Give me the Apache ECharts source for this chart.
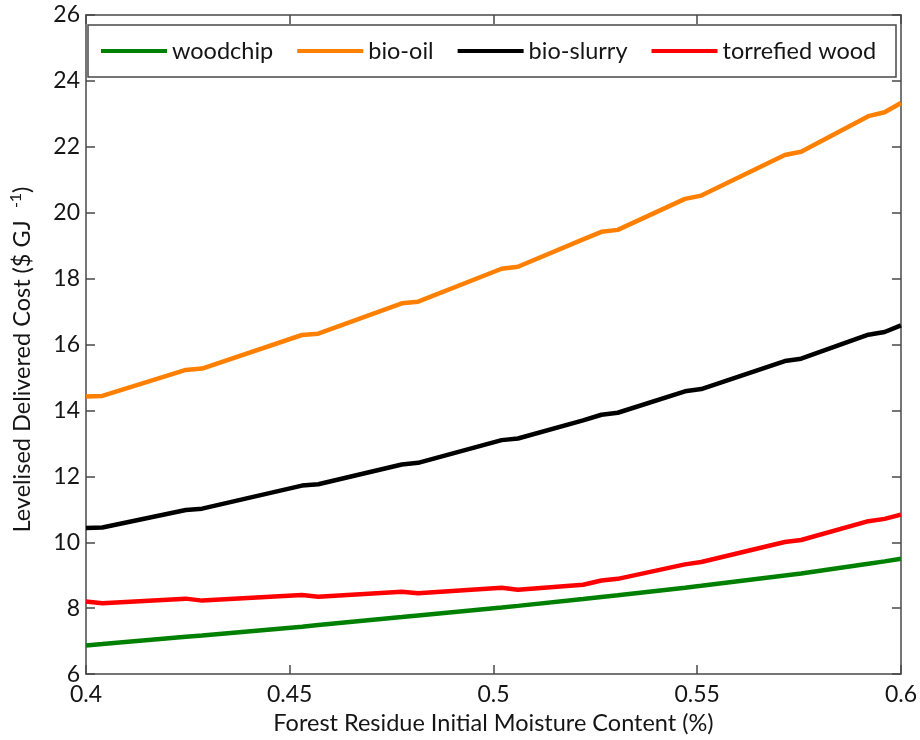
<!DOCTYPE html>
<html>
<head>
<meta charset="utf-8">
<script src="https://cdn.jsdelivr.net/npm/echarts@6/dist/echarts.min.js"></script>
<style>
  html, body { margin: 0; padding: 0; background: #fff; }
  #chart { width: 920px; height: 740px; }
</style>
</head>
<body>
<div id="chart"></div>
<script>
// Forest residue initial moisture content (fraction) sampled along the x axis
const moisture = [0.4, 0.404, 0.4245, 0.4285, 0.453, 0.457, 0.4775, 0.4815, 0.502, 0.506,
                  0.522, 0.5265, 0.5305, 0.547, 0.551, 0.5715, 0.5755, 0.592, 0.596, 0.6];

// Levelised delivered cost ($/GJ) per supply chain
const woodchip   = [6.87, 6.91, 7.13, 7.17, 7.44, 7.49, 7.73, 7.78, 8.02, 8.07,
                    8.28, 8.34, 8.39, 8.62, 8.68, 8.99, 9.05, 9.35, 9.42, 9.50];
const bioOil     = [14.42, 14.44, 15.23, 15.27, 16.29, 16.33, 17.25, 17.30, 18.30, 18.36,
                    19.19, 19.42, 19.48, 20.42, 20.52, 21.75, 21.85, 22.93, 23.05, 23.33];
const bioSlurry  = [10.43, 10.45, 10.98, 11.02, 11.72, 11.76, 12.36, 12.41, 13.10, 13.15,
                    13.70, 13.87, 13.93, 14.58, 14.65, 15.50, 15.57, 16.30, 16.38, 16.58];
const torrefied  = [8.20, 8.15, 8.29, 8.23, 8.40, 8.35, 8.50, 8.45, 8.62, 8.56,
                    8.71, 8.84, 8.89, 9.33, 9.40, 10.01, 10.07, 10.64, 10.71, 10.84];

const seriesNames  = ['woodchip', 'bio-oil', 'bio-slurry', 'torrefied wood'];
const seriesValues = [woodchip, bioOil, bioSlurry, torrefied];
const seriesColors = ['#008000', '#ff8000', '#000000', '#ff0000'];

const xTicks = [0.4, 0.45, 0.5, 0.55, 0.6];
const yTicks = [6, 8, 10, 12, 14, 16, 18, 20, 22, 24, 26];

const FONT = 'Lato';
const AXIS_COLOR = '#484848';
const TEXT_COLOR = '#151515';

const pairs = vals => moisture.map((x, i) => [x, vals[i]]);

const chart = echarts.init(document.getElementById('chart'), null, { renderer: 'canvas' });

const baseX = {
  type: 'value',
  min: xTicks[0], max: xTicks[xTicks.length - 1], interval: 0.05,
  splitLine: { show: false },
  axisLine: { show: true, onZero: false, lineStyle: { color: AXIS_COLOR, width: 1.5 } },
  axisTick: { show: true, inside: true, length: 9, lineStyle: { color: AXIS_COLOR, width: 1.5 } }
};
const baseY = {
  type: 'value',
  min: yTicks[0], max: yTicks[yTicks.length - 1], interval: 2,
  splitLine: { show: false },
  axisLine: { show: true, onZero: false, lineStyle: { color: AXIS_COLOR, width: 1.5 } },
  axisTick: { show: true, inside: true, length: 9, lineStyle: { color: AXIS_COLOR, width: 1.5 } }
};

chart.setOption({
  animation: false,
  backgroundColor: '#fff',
  textStyle: { fontFamily: FONT },
  grid: { left: 83, right: 19, top: 15, bottom: 63, containLabel: false },
  legend: {
    left: 101, top: 39,
    padding: 0,
    icon: 'rect',
    itemWidth: 66, itemHeight: 4, itemGap: 24,
    textStyle: { fontFamily: FONT, fontSize: 23.5, color: TEXT_COLOR },
    data: seriesNames
  },
  graphic: [{
    type: 'rect',
    shape: { x: 88, y: 25, width: 808, height: 52 },
    style: { fill: '#fff', stroke: AXIS_COLOR, lineWidth: 1.5 },
    z: 3
  }],
  xAxis: [
    Object.assign({}, baseX, {
      position: 'bottom',
      name: 'Forest Residue Initial Moisture Content (%)',
      nameLocation: 'middle', nameGap: 30,
      nameTextStyle: { fontFamily: FONT, fontSize: 23.5, color: TEXT_COLOR },
      axisLabel: { fontFamily: FONT, fontSize: 23, color: TEXT_COLOR, margin: 9,
                   formatter: v => String(v) }
    }),
    Object.assign({}, baseX, { position: 'top', axisLabel: { show: false } })
  ],
  yAxis: [
    Object.assign({}, baseY, {
      position: 'left',
      name: '{t|Levelised Delivered Cost ($ GJ}{s|   -1}{t|)}',
      nameLocation: 'middle', nameGap: 50,
      nameTextStyle: {
        fontFamily: FONT, color: TEXT_COLOR, padding: [0, 30, 0, 0],
        rich: {
          t: { fontFamily: FONT, fontSize: 23.5, color: TEXT_COLOR },
          s: { fontFamily: FONT, fontSize: 16, color: TEXT_COLOR, verticalAlign: 'top', padding: [0, 0, 12, 0] }
        }
      },
      axisLabel: { fontFamily: FONT, fontSize: 23, color: TEXT_COLOR, margin: 6 }
    }),
    Object.assign({}, baseY, { position: 'right', axisLabel: { show: false } })
  ],
  series: seriesNames.map((name, i) => ({
    name: name,
    type: 'line',
    data: pairs(seriesValues[i]),
    symbol: 'none',
    smooth: false,
    z: 2,
    lineStyle: { color: seriesColors[i], width: 4.5 },
    itemStyle: { color: seriesColors[i] }
  }))
});
</script>
</body>
</html>
